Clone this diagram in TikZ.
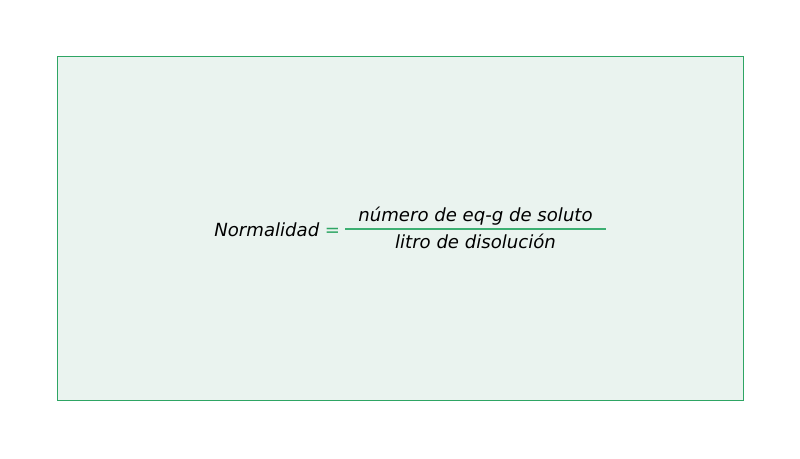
\documentclass[tikz,border=0pt]{standalone}
\usepackage{fontspec}
\setmainfont{DejaVu Sans}
\definecolor{bgc}{HTML}{EAF3EF}
\definecolor{grn}{HTML}{2EA564}
\definecolor{lgrn}{HTML}{3DAF72}
\begin{document}
\begin{tikzpicture}[x=0.02cm,y=0.02cm,
  txt/.style={inner sep=0pt,font=\fontsize{10.3pt}{12pt}\selectfont\itshape}]
\useasboundingbox (0,0) rectangle (800,458);
\node[draw=grn,fill=bgc,line width=0.6pt,minimum width=686*0.02cm,minimum height=344*0.02cm,inner sep=0pt,anchor=south west] (frame) at (57,57) {};
\node[txt,anchor=base west] (lhs) at (214,222) {Normalidad};
\node[txt,anchor=base,text=grn,font=\fontsize{10.3pt}{12pt}\selectfont] (eq) at (332.5,222) {=};
\coordinate (l1) at (345,229);
\coordinate (l2) at (606,229);
\draw[lgrn,line width=0.6pt] (l1) -- (l2);
\node[txt,anchor=base] (num) at (475.5,237) {número de eq-g de soluto};
\node[txt,anchor=base] (den) at (475.5,210) {litro de disolución};
\end{tikzpicture}
\end{document}
